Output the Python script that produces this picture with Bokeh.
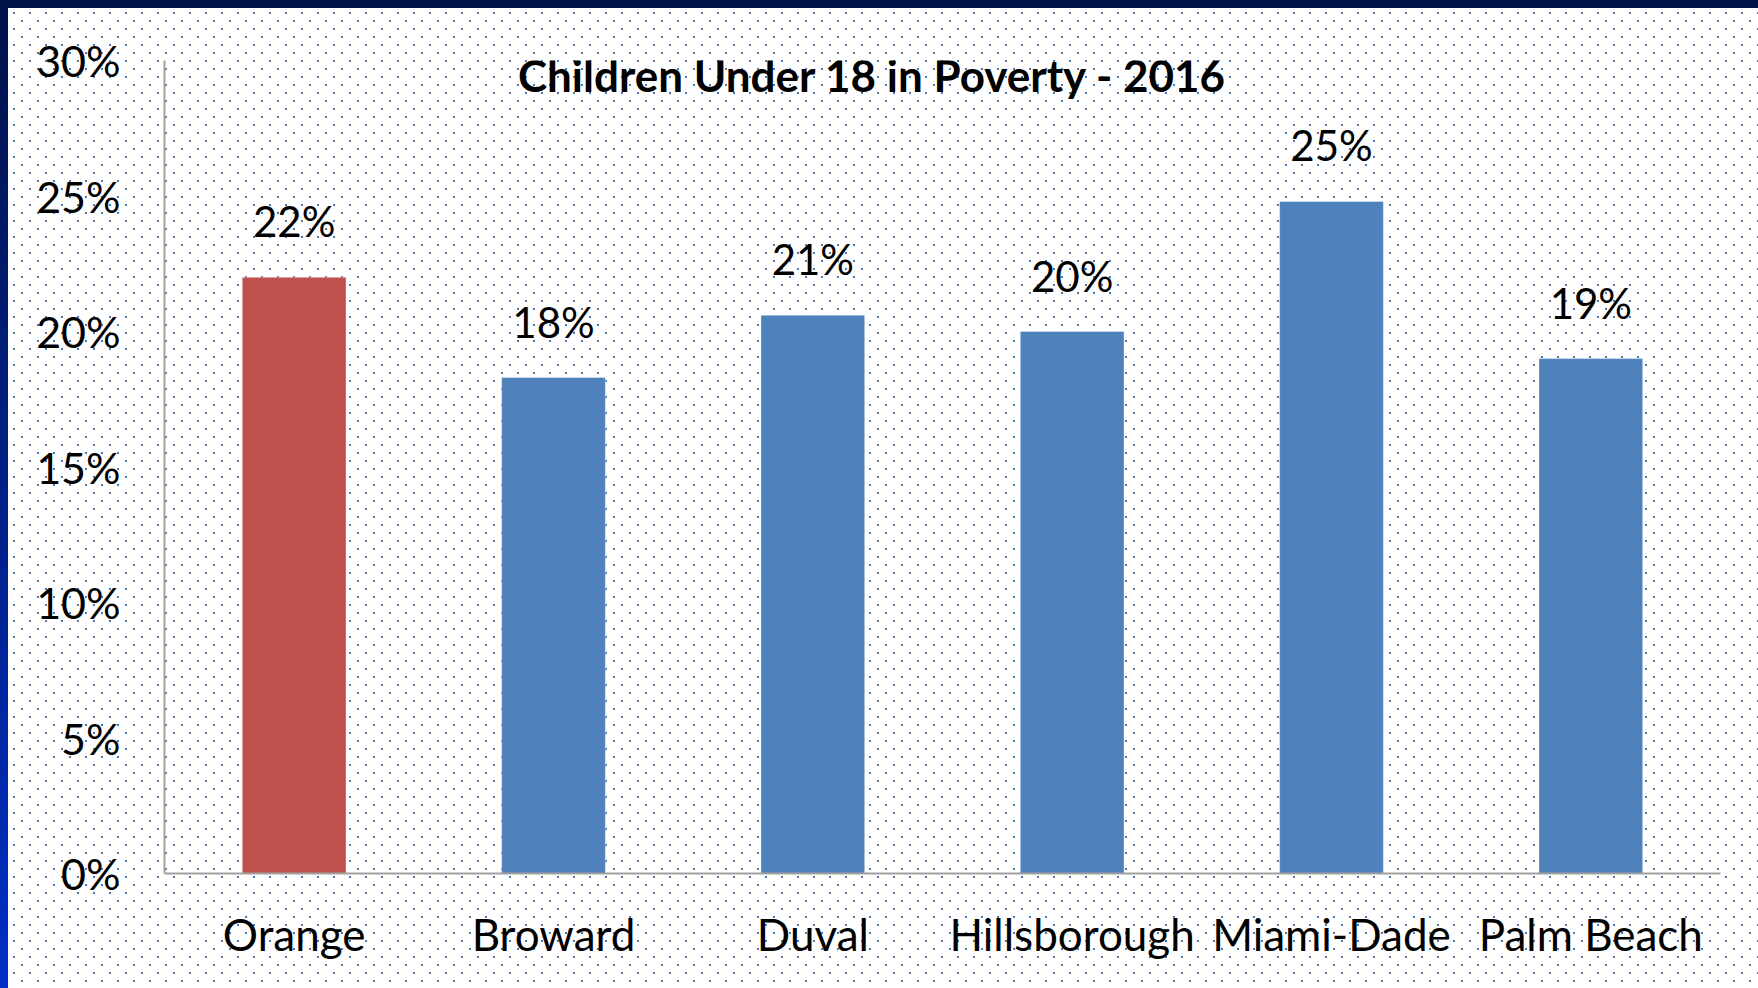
from bokeh.plotting import figure
from bokeh.models import (ColumnDataSource, FactorRange, Range1d, FixedTicker,
                          NumeralTickFormatter, Label, GlobalInlineStyleSheet)
from bokeh.embed import file_html
from bokeh.resources import INLINE
from bokeh.core.properties import value

# ---- data ----
counties = ["Orange", "Broward", "Duval", "Hillsborough", "Miami-Dade", "Palm Beach"]
poverty_rate = [0.220, 0.183, 0.206, 0.200, 0.248, 0.190]
rate_labels = ["22%", "18%", "21%", "20%", "25%", "19%"]
y_ticks = [0.0, 0.05, 0.10, 0.15, 0.20, 0.25, 0.30]
chart_title = "Children Under 18 in Poverty - 2016"

# ---- styles ----
bar_colors = ["#c0504d", "#4f81bd", "#4f81bd", "#4f81bd", "#4f81bd", "#4f81bd"]
FONT = "Lato"

src = ColumnDataSource(dict(county=counties, rate=poverty_rate,
                            label=rate_labels, color=bar_colors))

page_css = """
html {
  background:
    linear-gradient(#00124a, #00124a) 0 0 / 100% 8px no-repeat,
    linear-gradient(to bottom, #00124a, #002fc6) 0 0 / 8px 100% no-repeat,
    url("data:image/svg+xml;utf8,<svg xmlns='http://www.w3.org/2000/svg' width='16' height='16'><rect x='13' y='12' width='2' height='2' fill='%234a78b4'/><rect x='5' y='4' width='2' height='2' fill='%234a78b4'/></svg>") 0 0 / 16px 16px repeat,
    #ffffff;
}
"""

p = figure(width=1742, height=972,
           x_range=FactorRange(factors=counties), y_range=Range1d(0, 0.30),
           output_backend="svg", toolbar_location=None,
           min_border_left=164, min_border_right=22,
           min_border_top=60, min_border_bottom=99,
           background_fill_color=None, border_fill_color=None,
           outline_line_color=None)
p.stylesheets = [GlobalInlineStyleSheet(css=page_css)]

p.vbar(x="county", top="rate", width=0.4, source=src,
       fill_color="color", line_color="white", line_alpha=0.35, line_width=1)

p.text(x="county", y="rate", text="label", source=src,
       text_align="center", text_baseline="alphabetic", y_offset=-56,
       text_font=value(FONT), text_font_size="42px", text_color="#000000")

# title sits inside the plot area, centred slightly left of the frame centre
p.add_layout(Label(x=len(counties) / 2, y=0.30, x_offset=-70, y_offset=-14,
                   text=chart_title, text_align="center", text_baseline="middle",
                   text_font=FONT, text_font_style="bold",
                   text_font_size="44px", text_color="#000000"))

p.xgrid.visible = False
p.ygrid.visible = False

for ax in (p.xaxis[0], p.yaxis[0]):
    ax.axis_line_color = "#a0a0a0"
    ax.axis_line_width = 2
    ax.major_tick_line_color = None
    ax.minor_tick_line_color = None
    ax.major_tick_out = 0
    ax.major_tick_in = 0
    ax.minor_tick_out = 0
    ax.minor_tick_in = 0
    ax.major_label_text_font = FONT
    ax.major_label_text_color = "#000000"

p.yaxis.major_label_text_font_size = "43px"
p.xaxis.major_label_text_font_size = "44px"
p.yaxis.ticker = FixedTicker(ticks=y_ticks)
p.yaxis.formatter = NumeralTickFormatter(format="0%")
p.yaxis.major_label_standoff = 44
p.xaxis.major_label_standoff = 34

open("out.html", "w").write(file_html(p, INLINE))
